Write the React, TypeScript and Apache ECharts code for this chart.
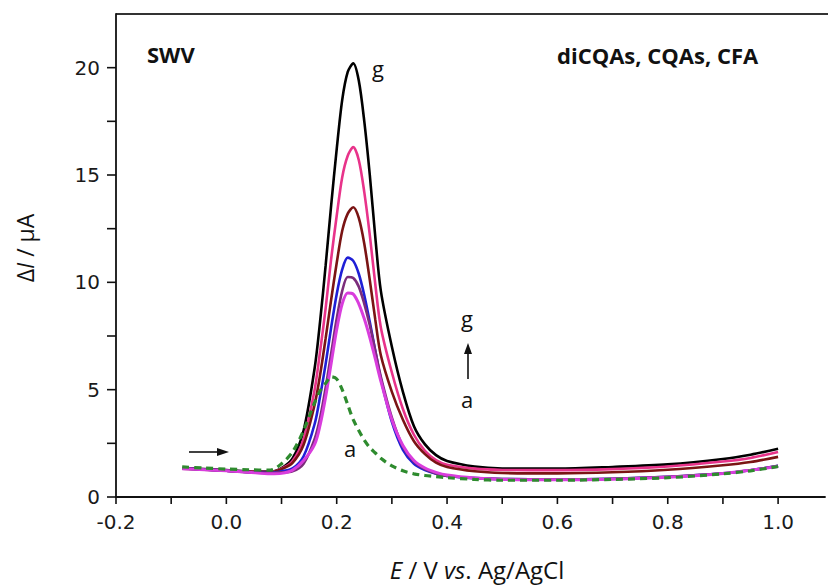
import { useEffect, useRef } from 'react';
import * as echarts from 'echarts';

const E = [-0.08, -0.04, 0, 0.04, 0.08, 0.10, 0.12, 0.14, 0.16, 0.17, 0.18, 0.19, 0.20, 0.21, 0.22, 0.23, 0.24, 0.25, 0.26, 0.27, 0.28, 0.30, 0.32, 0.34, 0.36, 0.38, 0.40, 0.45, 0.50, 0.60, 0.70, 0.80, 0.90, 0.95, 1.00];

const curveA = [1.4, 1.35, 1.3, 1.27, 1.25, 1.55, 2.1, 3.1, 4.4, 4.95, 5.3, 5.6, 5.5, 5.0, 4.3, 3.6, 3.1, 2.65, 2.3, 2.05, 1.8, 1.45, 1.22, 1.08, 1.0, 0.95, 0.9, 0.82, 0.78, 0.78, 0.82, 0.9, 1.08, 1.22, 1.42];
const curveB = [1.32, 1.27, 1.22, 1.15, 1.08, 1.1, 1.25, 1.7, 2.45, 3.36, 4.67, 6.23, 7.8, 9.0, 9.5, 9.45, 9.0, 8.3, 7.43, 6.43, 5.4, 3.6, 2.4, 1.7, 1.35, 1.15, 1.02, 0.88, 0.82, 0.8, 0.83, 0.92, 1.1, 1.25, 1.42];
const curveC = [1.33, 1.28, 1.22, 1.15, 1.12, 1.15, 1.2, 1.55, 2.7, 3.7, 5.1, 6.7, 8.3, 9.6, 10.25, 10.2, 9.8, 9.0, 8.0, 6.8, 5.6, 3.7, 2.35, 1.65, 1.3, 1.1, 0.98, 0.88, 0.84, 0.82, 0.85, 0.94, 1.1, 1.25, 1.45];
const curveD = [1.33, 1.28, 1.22, 1.16, 1.13, 1.2, 1.33, 1.9, 3.4, 4.7, 6.2, 7.9, 9.45, 10.6, 11.15, 11.0, 10.4, 9.4, 8.15, 6.8, 5.5, 3.5, 2.2, 1.55, 1.25, 1.08, 0.98, 0.88, 0.84, 0.82, 0.85, 0.94, 1.1, 1.25, 1.45];
const curveE = [1.32, 1.27, 1.22, 1.17, 1.15, 1.3, 1.59, 2.43, 4.3, 5.7, 7.4, 9.2, 10.9, 12.4, 13.2, 13.5, 13.0, 11.8, 10.1, 8.25, 6.6, 4.9, 3.6, 2.6, 2.0, 1.6, 1.4, 1.2, 1.12, 1.1, 1.15, 1.27, 1.48, 1.63, 1.87];
const curveF = [1.33, 1.28, 1.23, 1.18, 1.16, 1.32, 1.68, 2.7, 5.0, 6.8, 8.8, 11.1, 13.1, 14.9, 15.9, 16.3, 15.7, 14.2, 12.2, 9.9, 7.9, 5.8, 4.1, 2.9, 2.15, 1.72, 1.5, 1.32, 1.26, 1.25, 1.3, 1.42, 1.65, 1.82, 2.1];
const curveG = [1.35, 1.3, 1.25, 1.2, 1.18, 1.35, 1.8, 3.1, 6.0, 8.2, 10.8, 13.6, 16.2, 18.5, 19.8, 20.2, 19.4, 17.5, 15.0, 12.1, 9.6, 7.0, 4.9, 3.3, 2.45, 1.95, 1.68, 1.42, 1.33, 1.32, 1.4, 1.52, 1.77, 1.97, 2.25];

const xTickValues = [-0.2, -0.1, 0, 0.1, 0.2, 0.3, 0.4, 0.5, 0.6, 0.7, 0.8, 0.9, 1.0];
const yTickValues = [0, 2.5, 5, 7.5, 10, 12.5, 15, 17.5, 20];
const xLabelStep = 0.2;
const yLabelStep = 5;
const xLabelMax = 1.0;
const yLabelMax = 20;
const X_MIN = -0.2;
const Y_MIN = 0;

const curves = [
  { name: 'g', data: curveG, color: '#000000', width: 2.6, dash: false },
  { name: 'f', data: curveF, color: '#e8338a', width: 2.6, dash: false },
  { name: 'e', data: curveE, color: '#7a1414', width: 2.6, dash: false },
  { name: 'd', data: curveD, color: '#1f1fd6', width: 2.6, dash: false },
  { name: 'c', data: curveC, color: '#7b2d7b', width: 2.6, dash: false },
  { name: 'b', data: curveB, color: '#d93ddd', width: 3, dash: false },
  { name: 'a', data: curveA, color: '#2e8b2e', width: 3.2, dash: true },
];

const isMultiple = (v: number, step: number) => Math.abs(v / step - Math.round(v / step)) < 1e-6;

export default function App() {
  const ref = useRef<HTMLDivElement>(null);
  useEffect(() => {
    if (!ref.current) return;
    const chart = echarts.init(ref.current, undefined, { renderer: 'svg' });
    const labelFont = { fontFamily: 'DejaVu Sans', fontSize: 20, color: '#1a1a1a' };
    const baseGraphics: any[] = [
      { type: 'line', shape: { x1: 116, y1: 14, x2: 828, y2: 14 }, style: { stroke: '#333', lineWidth: 1.8 } },
      { type: 'text', x: 147, y: 54, style: { text: 'SWV', font: 'bold 22px "Open Sans"', fill: '#111', verticalAlign: 'middle' } },
      { type: 'text', x: 557, y: 55, style: { text: 'diCQAs, CQAs, CFA', font: 'bold 22px "Open Sans"', fill: '#111', verticalAlign: 'middle' } },
      { type: 'text', x: 378, y: 68, style: { text: 'g', font: '22px "Open Sans"', fill: '#111', align: 'center', verticalAlign: 'middle' } },
      { type: 'text', x: 467, y: 318, style: { text: 'g', font: '22px "Open Sans"', fill: '#111', align: 'center', verticalAlign: 'middle' } },
      { type: 'text', x: 467, y: 399, style: { text: 'a', font: '22px "Open Sans"', fill: '#111', align: 'center', verticalAlign: 'middle' } },
      { type: 'text', x: 350, y: 448, style: { text: 'a', font: '22px "Open Sans"', fill: '#111', align: 'center', verticalAlign: 'middle' } },
      { type: 'line', shape: { x1: 468, y1: 379, x2: 468, y2: 352 }, style: { stroke: '#111', lineWidth: 1.6 } },
      { type: 'polygon', shape: { points: [[468, 343], [464, 354], [472, 354]] }, style: { fill: '#111' } },
      { type: 'line', shape: { x1: 189, y1: 452, x2: 218, y2: 452 }, style: { stroke: '#111', lineWidth: 1.6 } },
      { type: 'polygon', shape: { points: [[229, 452], [217, 448], [217, 456]] }, style: { fill: '#111' } },
      {
        type: 'text', x: 25, y: 248, rotation: Math.PI / 2,
        style: {
          text: 'Δ{i|I} / μA', font: '23px "Open Sans"', fill: '#111', align: 'center', verticalAlign: 'middle', lineHeight: 26,
          rich: { i: { fontStyle: 'italic', fontFamily: 'Open Sans', fontSize: 23, fill: '#111', lineHeight: 26 } },
        },
      },
      {
        type: 'text', x: 477, y: 569,
        style: {
          text: '{i|E} / V {i|vs}. Ag/AgCl', font: '24px "Open Sans"', fill: '#111', align: 'center', verticalAlign: 'middle', lineHeight: 26,
          rich: { i: { fontStyle: 'italic', fontFamily: 'Open Sans', fontSize: 24, fill: '#111', lineHeight: 26 } },
        },
      },
    ];
    chart.setOption({
      animation: false,
      backgroundColor: '#ffffff',
      grid: { left: 116, top: 14, right: 0, bottom: 88 },
      xAxis: {
        type: 'value',
        min: X_MIN,
        max: 1.085,
        interval: 0.1,
        axisLine: { show: true, onZero: false, lineStyle: { color: '#111', width: 1.8 } },
        axisTick: { show: false },
        axisLabel: {
          ...labelFont,
          margin: 15,
          formatter: (v: number) => (isMultiple(v, xLabelStep) && v <= xLabelMax + 1e-6 ? v.toFixed(1) : ''),
        },
        splitLine: { show: false },
      },
      yAxis: {
        type: 'value',
        min: Y_MIN,
        max: 22.5,
        interval: 2.5,
        axisLine: { show: true, onZero: false, lineStyle: { color: '#111', width: 1.8 } },
        axisTick: { show: false },
        axisLabel: {
          ...labelFont,
          margin: 16,
          formatter: (v: number) => (isMultiple(v, yLabelStep) && v <= yLabelMax ? String(Math.round(v)) : ''),
        },
        splitLine: { show: false },
      },
      series: curves.map((c) => ({
        name: c.name,
        type: 'line',
        data: E.map((x, i) => [x, c.data[i]]),
        showSymbol: false,
        smooth: 0.3,
        lineStyle: { color: c.color, width: c.width, type: c.dash ? [7, 5] : 'solid' },
        z: c.dash ? 3 : 2,
      })),
      graphic: baseGraphics,
    });

    // Tick marks placed through the chart's own scales.
    const tickGraphics: any[] = [];
    xTickValues.forEach((v) => {
      const p = chart.convertToPixel({ gridIndex: 0 }, [v, Y_MIN]) as number[];
      if (p) tickGraphics.push({ type: 'line', shape: { x1: p[0], y1: p[1], x2: p[0], y2: p[1] + 7 }, style: { stroke: '#111', lineWidth: 1.6 } });
    });
    yTickValues.forEach((v) => {
      const p = chart.convertToPixel({ gridIndex: 0 }, [X_MIN, v]) as number[];
      if (p) tickGraphics.push({ type: 'line', shape: { x1: p[0] - 9, y1: p[1], x2: p[0], y2: p[1] }, style: { stroke: '#111', lineWidth: 1.6 } });
    });
    chart.setOption({ graphic: [...baseGraphics, ...tickGraphics] });

    return () => chart.dispose();
  }, []);
  return <div ref={ref} style={{ position: 'absolute', left: 0, top: 0, width: 828, height: 585 }} />;
}
